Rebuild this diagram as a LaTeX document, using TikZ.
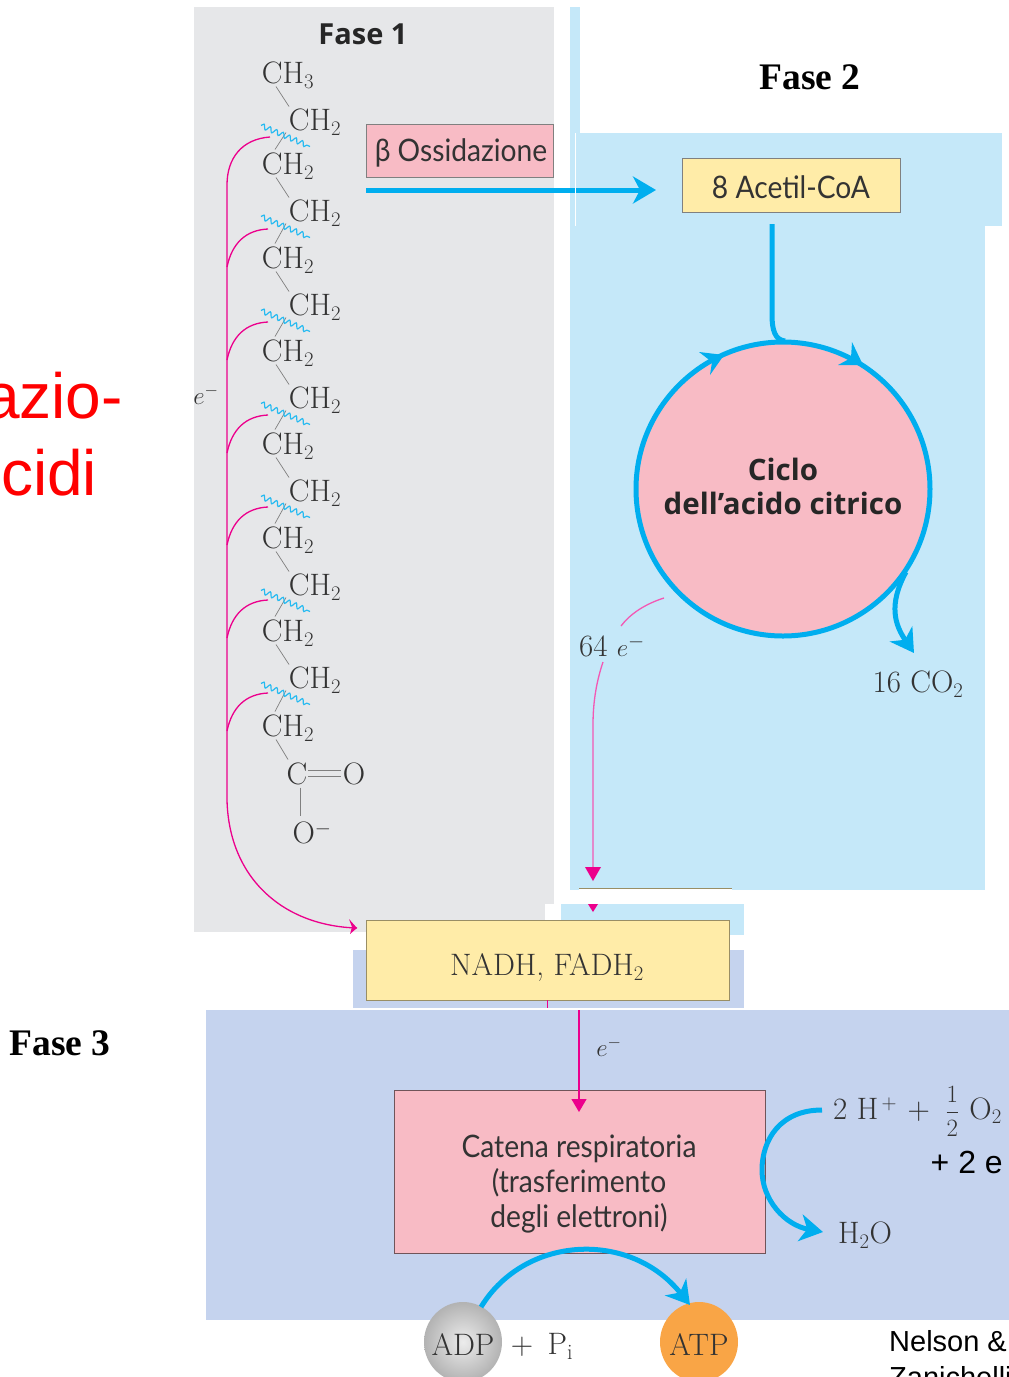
\documentclass[tikz,border=0pt]{standalone}
\usepackage{fontspec}
\usepackage{amsmath}
\usetikzlibrary{arrows.meta,decorations.pathmorphing,calc,shapes.geometric}
\newfontfamily\lib{Liberation Sans}
\newfontfamily\libs{Liberation Serif}
\newfontfamily\opn{Open Sans}
\newfontfamily\lato[FakeStretch=0.91]{Lato}
\DeclareMathSizes{31}{31}{22}{16}
\DeclareMathSizes{27}{27}{18}{12}
\definecolor{grayp}{HTML}{E6E7E9}
\definecolor{bluep}{HTML}{C5E8F9}
\definecolor{perip}{HTML}{C5D3EE}
\definecolor{yel}{HTML}{FFECA8}
\definecolor{pnk}{HTML}{F8BBC5}
\definecolor{cy}{HTML}{00AEEF}
\definecolor{mag}{HTML}{EC008C}
\definecolor{ink}{HTML}{333333}
\definecolor{org}{HTML}{F9A546}
\tikzset{
  x=1pt,y=-1pt,
  panel/.style={fill=#1,draw=none},
  chem/.style={text=ink,font=\fontsize{31}{33}\selectfont,inner sep=0pt,anchor=center,yshift=-1.5pt},
  smallchem/.style={text=ink,font=\fontsize{27}{29}\selectfont,inner sep=0pt,anchor=center},
  labelsans/.style={text=ink,font=\lato\fontsize{31}{35}\selectfont,inner sep=0pt,align=center},
  yelbox/.style={fill=yel,draw=#1,line width=0.9pt,inner sep=0pt},
  pinkbox/.style={fill=pnk,draw=#1,line width=0.9pt,inner sep=0pt},
  bond/.style={draw=gray,line width=0.7pt},
  wav/.style={draw=cy!85,line width=1.2pt,decorate,decoration={snake,amplitude=2.5pt,segment length=7pt}},
  mgl/.style={draw=mag,line width=1.3pt},
  cyl/.style={draw=cy,line width=5pt},
  cyar/.style={cyl,-{Stealth[length=23pt,width=27pt,inset=7pt]}},
  mgar/.style={mgl,-{Stealth[length=13pt,width=15pt,inset=0pt]}},
}
\begin{document}
\begin{tikzpicture}
\useasboundingbox (0,0) rectangle (1009,1377);
\clip (0,0) rectangle (1009,1377);
% panels
\path[panel=grayp] (194,7) rectangle (554,932);
\path[panel=bluep] (570,7) rectangle (580,133);
\path[panel=bluep] (570,133) rectangle (985,890);
\path[panel=bluep] (576,133) rectangle (1002,226);
\path[panel=white] (545,904) rectangle (561,920);
\path[panel=bluep] (561,904) rectangle (744,935);
\path[panel=perip] (353,950) rectangle (744,1008);
\path[panel=perip] (206,1010) rectangle (1009,1320);
\draw[draw=yel!60!black,line width=0.9pt] (579,888.5) -- (732,888.5);
\path[panel=white] (579,889) rectangle (732,904);
% titles
\node[font=\opn\bfseries\fontsize{29}{30}\selectfont,text=black!85] (f1) at (363,34) {Fase 1};
\node[font=\libs\bfseries\fontsize{37.5}{40}\selectfont] (f2) at (810,77) {Fase 2};
\node[font=\libs\bfseries\fontsize{37.5}{40}\selectfont] (f3) at (60,1043) {Fase 3};
\node[font=\lib\fontsize{64}{64}\selectfont,text=red,anchor=base east,inner sep=0pt] (az) at (123,418) {azio-};
\node[font=\lib\fontsize{64}{64}\selectfont,text=red,anchor=base west,inner sep=0pt] (ci) at (1,495) {cidi};
% chain
\node[chem] (c0) at (288,74) {CH$_3$};
\node[chem] (c1) at (315,121) {CH$_2$};
\node[chem] (c2) at (288,165) {CH$_2$};
\node[chem] (c3) at (315,212) {CH$_2$};
\node[chem] (c4) at (288,259) {CH$_2$};
\node[chem] (c5) at (315,306) {CH$_2$};
\node[chem] (c6) at (288,352) {CH$_2$};
\node[chem] (c7) at (315,399) {CH$_2$};
\node[chem] (c8) at (288,445) {CH$_2$};
\node[chem] (c9) at (315,492) {CH$_2$};
\node[chem] (c10) at (288,539) {CH$_2$};
\node[chem] (c11) at (315,586) {CH$_2$};
\node[chem] (c12) at (288,632) {CH$_2$};
\node[chem] (c13) at (315,679) {CH$_2$};
\node[chem] (c14) at (288,727) {CH$_2$};
\node[chem] (cc) at (297,772) {C};
\node[chem] (co) at (354,772) {O};
\node[chem] (om) at (312,831) {O$^-$};
\foreach \a/\b in {c0/c1,c2/c3,c4/c5,c6/c7,c8/c9,c10/c11,c12/c13}{
  \draw[bond] ($(\a)+(-12,11)$) -- ($(\b)+(-26,-16)$);
}
\foreach \a/\b in {c1/c2,c3/c4,c5/c6,c7/c8,c9/c10,c11/c12,c13/c14}{
  \draw[bond] ($(\a)+(-29,10)$) -- ($(\b)+(-13,-17)$);
  \draw[wav] ($(\a)+(-54,3)$) -- ($(\a)+(-5,24)$);
}
\draw[bond] ($(c14)+(-12,11)$) -- ($(cc)+(-9,-14)$);
\draw[bond] ($(cc)+(11,-3)$) -- ($(co)+(-13,-3)$);
\draw[bond] ($(cc)+(11,3)$) -- ($(co)+(-13,3)$);
\draw[bond] ($(cc)+(3,14)$) -- ($(om)+(-12,-17)$);
% magenta collectors
\coordinate (m0) at (270,137);
\coordinate (m0a) at (227,185);
\coordinate (mb) at (227,800);
\coordinate (mend) at (357,928);
\draw[mgl] (m0) .. controls (242,139) and (227,158) .. (m0a) -- (mb)
  .. controls (229,880) and (285,926) .. (mend);
\fill[mag] (mend) -- (349,919) -- (352,927) -- (350,934) -- cycle;
\foreach \yy [count=\i] in {229,322,415,507,600,693}{
  \coordinate (mm\i) at (268,\yy);
  \coordinate (mn\i) at (227,\yy+38);
  \draw[mgl] (mm\i) .. controls (246,\yy+1) and (232,\yy+14) .. (mn\i);
}
\node[smallchem] (e1) at (206,395) {$e^-$};
% boxes
\node[pinkbox=gray,minimum width=187pt,minimum height=53pt] (oss) at (459.5,150.5) {};
\node[labelsans] (ossl) at (461,153) {β Ossidazione};
\node[yelbox=gray,minimum width=218pt,minimum height=54pt] (ac) at (791,185) {};
\node[labelsans] (acl) at (791,187) {8 Acetil-CoA};
\coordinate (bs) at (366,190);
\coordinate (be) at (656,190);
\draw[cyar] (bs) -- (be);
\path[panel=white] (575,133) rectangle (576,226);
% cycle
\node[circle,fill=pnk,draw=cy,line width=5pt,minimum size=294pt,inner sep=0pt] (cy) at (783,489) {};
\node[labelsans,font=\opn\bfseries\fontsize{29.5}{34}\selectfont,text=black!85] (cyl) at (783,486) {Ciclo\\dell’acido citrico};
\coordinate (as) at (772,224);
\coordinate (ae) at (785,341);
\draw[cyl] (as) -- (772,315) .. controls (772,330) and (775,340) .. (ae);
\fill[cy] (724,355) -- (699,352) -- (712,362) -- (710,375) -- cycle;
\fill[cy] (863,365) -- (852,342) -- (851,358) -- (838,365) -- cycle;
\coordinate (co2s) at (906,572);
\coordinate (co2e) at (914,653);
\draw[cyar] (co2s) .. controls (888,605) and (895,625) .. (co2e);
\node[chem] (co2) at (918,683) {16 CO$_2$};
% 64 e-
\node[chem] (e64) at (612,645) {64 $e^-$};
\coordinate (p1) at (664,598);
\coordinate (p2) at (621,626);
\coordinate (p3) at (603,662);
\coordinate (p4) at (593,881);
\draw[mgl,draw=mag!65!white] (p1) .. controls (645,604) and (630,614) .. (p2);
\draw[mgl,draw=mag!65!white] (p3) .. controls (597,680) and (593,700) .. (593,725) -- (593,868);
\fill[mag] (p4) -- (585,867) -- (601,867) -- cycle;
\fill[mag] (593,912) -- (588,904) -- (598,904) -- cycle;
% NADH
\node[yelbox=yel!60!black,minimum width=363pt,minimum height=80pt] (nadh) at (547.5,960) {};
\node[chem] (nadhl) at (547,966) {NADH, FADH$_2$};
\coordinate (n1) at (547.5,1008);
\draw[mgl] (nadh.south) -- (n1);
\coordinate (n2) at (579,1010);
% Catena
\node[pinkbox=black!55!pnk,minimum width=371pt,minimum height=163pt] (cat) at (579.5,1171.5) {};
\node[labelsans] (catl) at (579,1184) {Catena respiratoria\\(trasferimento\\degli elettroni)};
\coordinate (n3) at (579,1112);
\draw[mgar] (n2) -- (n3);
\node[smallchem] (e2) at (609,1047) {$e^-$};
% right
\node[text=ink,font=\fontsize{31}{33}\selectfont,inner sep=0pt,anchor=base west] (o2) at (833,1119) {2 H$^{\,+}$\,\,+\,\,\,$\dfrac{1}{2}$\,\,O$_2$};
\node[font=\lib\fontsize{32}{32}\selectfont,anchor=base east,inner sep=0pt] (pe) at (1003,1173) {+ 2 e};
\node[chem] (h2o) at (865,1234) {H$_2$O};
\coordinate (o1) at (822,1110);
\coordinate (o3) at (823,1232);
\draw[cyar] (o1) .. controls (780,1110) and (762,1140) .. (762,1170) .. controls (762,1200) and (785,1225) .. (o3);
% ADP ATP
\shade[inner color=gray!15,outer color=gray!60] (463,1342) ellipse [x radius=39,y radius=40];
\node[ellipse,minimum width=78pt,minimum height=80pt,inner sep=0pt] (adp) at (463,1342) {};
\node[chem] (adpl) at (463,1343) {ADP};
\node[chem] (pi) at (542,1345) {+ \,P$_{\mathrm{i}}$};
\node[ellipse,fill=org,minimum width=78pt,minimum height=80pt,inner sep=0pt] (atp) at (699,1342) {};
\node[chem] (atpl) at (699,1343) {ATP};
\coordinate (t1) at (481,1307);
\coordinate (t2) at (690,1305);
\draw[cyar] (t1) .. controls (525,1235) and (630,1230) .. (t2);
\node[font=\lib\fontsize{29}{44}\selectfont,anchor=base west,align=left,inner sep=0pt] (nel) at (889,1351) {Nelson \&};
\node[font=\lib\fontsize{29}{44}\selectfont,anchor=base west,inner sep=0pt] (zan) at (889,1387) {Zanichelli};
\end{tikzpicture}
\end{document}
